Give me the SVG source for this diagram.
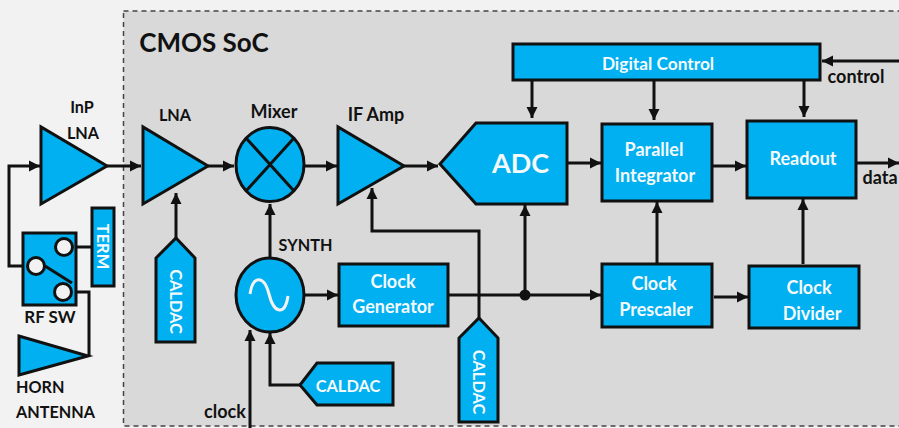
<svg xmlns="http://www.w3.org/2000/svg" width="899" height="428" viewBox="0 0 899 428">
<style>
text{font-family:"Lato","Open Sans","Liberation Sans",sans-serif;font-weight:700;text-anchor:middle}
.l{font-size:18px;fill:#111}
.k{font-size:16.2px;fill:#111}
.w{font-size:18px;fill:#f4f9fc}
.v{font-size:16.4px;fill:#f4f9fc}
.n{fill:#00b0f0;stroke:#111;stroke-width:3}
.c{fill:none;stroke:#111;stroke-width:3}
.a{marker-end:url(#ah)}
.s{fill:none;stroke:#111;stroke-width:3}
.o{fill:#f2f2f2;stroke:#111;stroke-width:3}
</style>
<defs><marker id="ah" markerUnits="userSpaceOnUse" markerWidth="12" markerHeight="12" refX="11" refY="6" orient="auto"><path d="M0 0.500L11 6L0 11.500Z" fill="#111"/></marker></defs>
<rect width="899" height="428" fill="#f2f2f2"/>
<rect id="soc" x="123.500" y="11" width="790" height="415" fill="#d9d9d9" stroke="#444" stroke-width="1.500" stroke-dasharray="5 4"/>
<text x="204" y="52" font-size="26" fill="#111">CMOS SoC</text>
<g id="connectors">
<path class="c a" d="M107 166H141"/>
<path class="c a" d="M208 166H234"/>
<path class="c a" d="M304 166H337"/>
<path class="c a" d="M404 166H438"/>
<path class="c a" d="M567 163H601"/>
<path class="c a" d="M712 166H746"/>
<path class="c a" d="M856 163H899"/>
<path class="c a" d="M899 61H822"/>
<path class="c a" d="M28 266H9V166H40"/>
<path class="c" d="M75 247H92M73 292H89V356"/>
<path class="c a" d="M176 238V193"/>
<path class="c a" d="M270 258V204"/>
<path class="c a" d="M304 295H338"/>
<path class="c a" d="M448 295H601"/>
<path class="c a" d="M525 295V205"/>
<path class="c a" d="M479 318V231H372V188"/>
<path class="c a" d="M300 385H270V333"/>
<path class="c a" d="M250 428V330"/>
<path class="c a" d="M532 80V118"/>
<path class="c a" d="M654 80V120"/>
<path class="c a" d="M804 80V117"/>
<path class="c a" d="M657 264V202"/>
<path class="c a" d="M803 264V199"/>
<path class="c a" d="M714 297H748"/>
<circle cx="525" cy="295" r="5.500" fill="#111"/>
</g>
<g id="inp-lna"><polygon class="n" points="41,127 41,204 107,166"/><text class="k" x="82" y="113">InP</text><text class="k" x="83" y="139">LNA</text></g>
<g id="lna"><polygon class="n" points="143,127 143,204 208,166"/><text class="k" x="175" y="121">LNA</text></g>
<g id="mixer"><ellipse class="n" cx="270" cy="164.500" rx="34" ry="37"/><path class="s" d="M246 138L294 191M294 138L246 191"/><text class="l" x="274" y="118">Mixer</text></g>
<g id="if-amp"><polygon class="n" points="338,127 338,204 404,166"/><text class="l" x="376" y="121">IF Amp</text></g>
<g id="adc"><polygon class="n" points="440,164 476,123 567,123 567,204 476,204"/><text x="520.500" y="173" font-size="27" fill="#f4f9fc">ADC</text></g>
<g id="rf-sw"><rect class="n" x="23" y="233" width="53" height="72"/><circle class="o" cx="64" cy="247" r="8.500"/><circle class="o" cx="36" cy="266" r="8.500"/><circle class="o" cx="63" cy="292" r="8.500"/><path class="s" d="M45 266L72 283"/><text class="l" x="50" y="323" font-size="17" style="font-size:17px">RF SW</text></g>
<g id="term"><rect class="n" x="92" y="208" width="22" height="78"/><text class="v" transform="translate(97 246.500) rotate(90)">TERM</text></g>
<g id="horn"><polygon class="n" points="19,336 19,375 88,356"/><text class="k" x="16" y="393" style="text-anchor:start">HORN</text><text class="k" x="16" y="418" style="text-anchor:start">ANTENNA</text></g>
<g id="caldac-1"><polygon class="n" points="176,238 195,258 195,342 156,342 156,258"/><text class="v" transform="translate(170 301.500) rotate(90)">CALDAC</text></g>
<g id="synth"><ellipse class="n" cx="270" cy="295" rx="34" ry="37"/><path d="M250 294C253 275 264 275 269 294C274 314 285 316 288 296" fill="none" stroke="#f2f2f2" stroke-width="3"/><text class="k" x="305.500" y="251">SYNTH</text></g>
<g id="caldac-3"><polygon class="n" points="300,385 317,363 393,363 393,405 317,405"/><text class="v" x="348" y="392">CALDAC</text></g>
<text class="l" x="225" y="418">clock</text>
<g id="clock-gen"><rect class="n" x="339" y="264" width="109" height="62"/><text class="w" x="393" y="288">Clock</text><text class="w" x="393" y="313">Generator</text></g>
<g id="caldac-2"><polygon class="n" points="479,318 498,338 498,422 459,422 459,338"/><text class="v" transform="translate(473 382) rotate(90)">CALDAC</text></g>
<g id="digital-control"><rect class="n" x="513" y="44" width="307" height="36"/><text class="w" x="658" y="70" style="font-size:17.300px">Digital Control</text></g>
<text class="l" x="856" y="83">control</text>
<g id="integrator"><rect class="n" x="602" y="124" width="110" height="77"/><text class="w" x="654" y="156">Parallel</text><text class="w" x="655" y="182">Integrator</text></g>
<g id="readout"><rect class="n" x="747" y="121" width="109" height="77"/><text class="w" x="803" y="165">Readout</text></g>
<text class="l" x="880" y="184">data</text>
<g id="prescaler"><rect class="n" x="602" y="264" width="110" height="63"/><text class="w" x="654" y="290">Clock</text><text class="w" x="656" y="316">Prescaler</text></g>
<g id="divider"><rect class="n" x="749" y="266" width="110" height="62"/><text class="w" x="809" y="294">Clock</text><text class="w" x="812" y="320">Divider</text></g>
</svg>
